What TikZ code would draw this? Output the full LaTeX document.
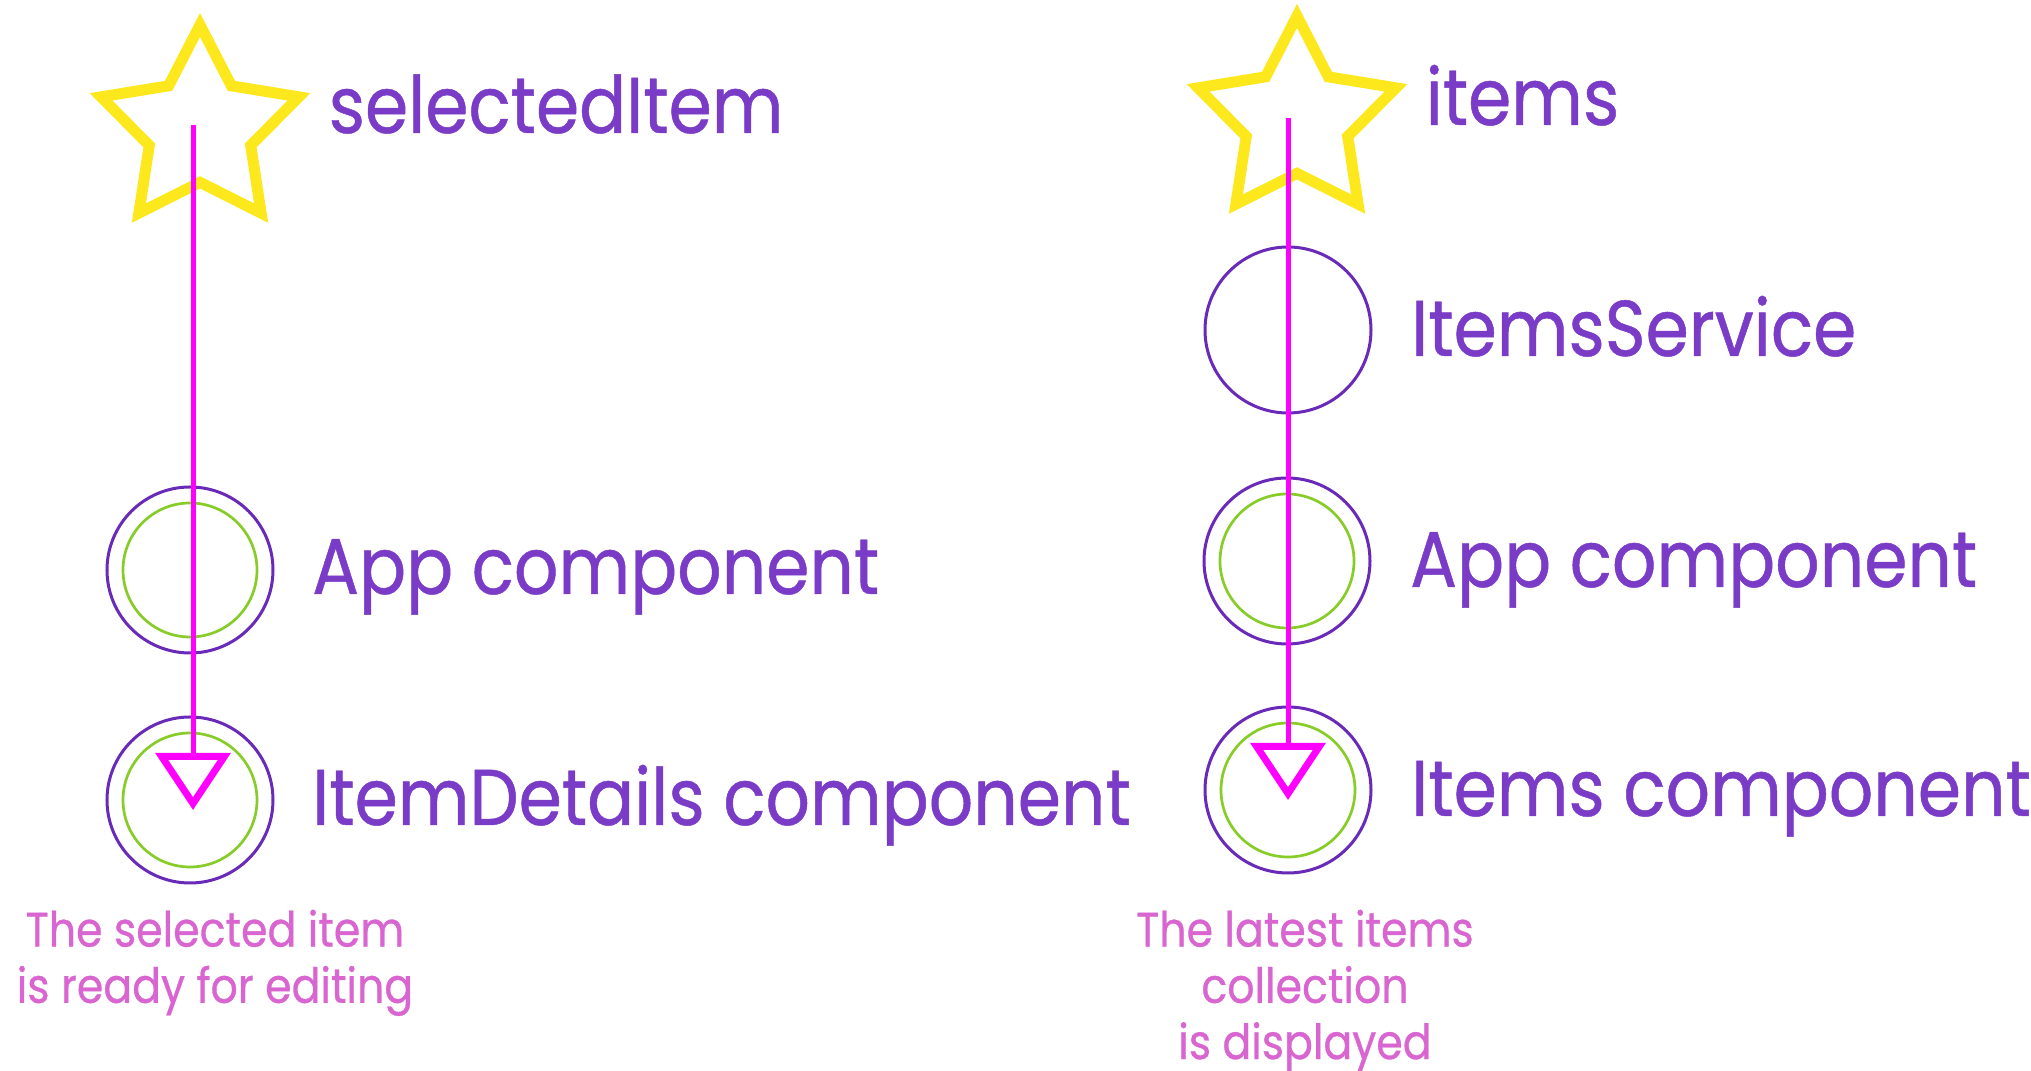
\documentclass[tikz,border=0pt]{standalone}
\usepackage{fontspec}
\setmainfont{Poppins}[FakeStretch=0.88, FakeBold=0.6]
\usepackage{tikz}
\usetikzlibrary{arrows.meta, positioning, shapes.geometric, calc}
\definecolor{violet}{HTML}{7A3CC6}
\definecolor{cercle}{HTML}{6A2AB8}
\definecolor{vert}{HTML}{88CC2A}
\definecolor{magenta}{HTML}{FF00FF}
\definecolor{jaune}{HTML}{FCE81C}
\definecolor{legende}{HTML}{D865D0}
\tikzset{
  etoile/.style={star, star points=5, star point ratio=1.95, draw=jaune,
    line width=0.11cm, line join=miter, minimum size=2.08cm, inner sep=0pt},
  anneau/.style={circle, draw=cercle, line width=0.03cm, minimum size=1.66cm,
    inner sep=0pt},
  composant/.style={anneau, path picture={
      \draw[vert, line width=0.027cm] (path picture bounding box.center) circle (0.67cm);}},
  titre/.style={font=\fontsize{22.5pt}{26pt}\selectfont, text=violet,
    inner sep=0pt, anchor=base west},
  legende/.style={font=\fontsize{13.8pt}{16pt}\selectfont, text=legende,
    inner sep=0pt, align=center, anchor=north},
  fleche/.style={line width=0.05cm, color=magenta,
    -{Triangle[open, length=5.7mm, width=7.4mm, line width=0.07cm]}}
}
\begin{document}
\begin{tikzpicture}
  \useasboundingbox (0,0) rectangle (20.31,10.71);
  % colonne de gauche
  \node[etoile] (selStar) at (2.00,9.42) {};
  \node[composant] (appL) at (1.90,5.01) {};
  \node[composant] (detailsL) at (1.90,2.71) {};
  % colonne de droite
  \node[etoile] (itemsStar) at (12.97,9.51) {};
  \node[anneau] (svcR) at (12.88,7.41) {};
  \node[composant] (appR) at (12.87,5.10) {};
  \node[composant] (itemsR) at (12.88,2.81) {};

  \node[titre] (selTxt) at ([xshift=12.8mm, yshift=-0.4mm]selStar.center) {selectedItem};
  \node[titre] (itemsTxt) at ([xshift=12.8mm, yshift=-0.5mm]itemsStar.center) {items};
  \node[titre] (appLTxt) at ([xshift=3.7mm, yshift=-2.4mm]appL.east) {App component};
  \node[titre] (detailsLTxt) at ([xshift=3.7mm, yshift=-2.5mm]detailsL.east) {ItemDetails component};
  \node[titre] (svcRTxt) at ([xshift=3.8mm, yshift=-2.6mm]svcR.east) {ItemsService};
  \node[titre] (appRTxt) at ([xshift=3.8mm, yshift=-2.6mm]appR.east) {App component};
  \node[titre] (itemsRTxt) at ([xshift=3.8mm, yshift=-2.6mm]itemsR.east) {Items component};

  \draw[fleche] ([xshift=0.3mm, yshift=0.4mm]selStar.center -| detailsL) -- ([xshift=0.3mm, yshift=-1mm]detailsL.center);
  \draw[fleche] ([yshift=0.2mm]itemsStar.center -| itemsR) -- ([yshift=-1mm]itemsR.center);

  \node[legende] (selNote) at (2.15,1.62) {The selected item\\is ready for editing};
  \node[legende] (itemsNote) at (13.05,1.62) {The latest items\\collection\\is displayed};
\end{tikzpicture}
\end{document}
